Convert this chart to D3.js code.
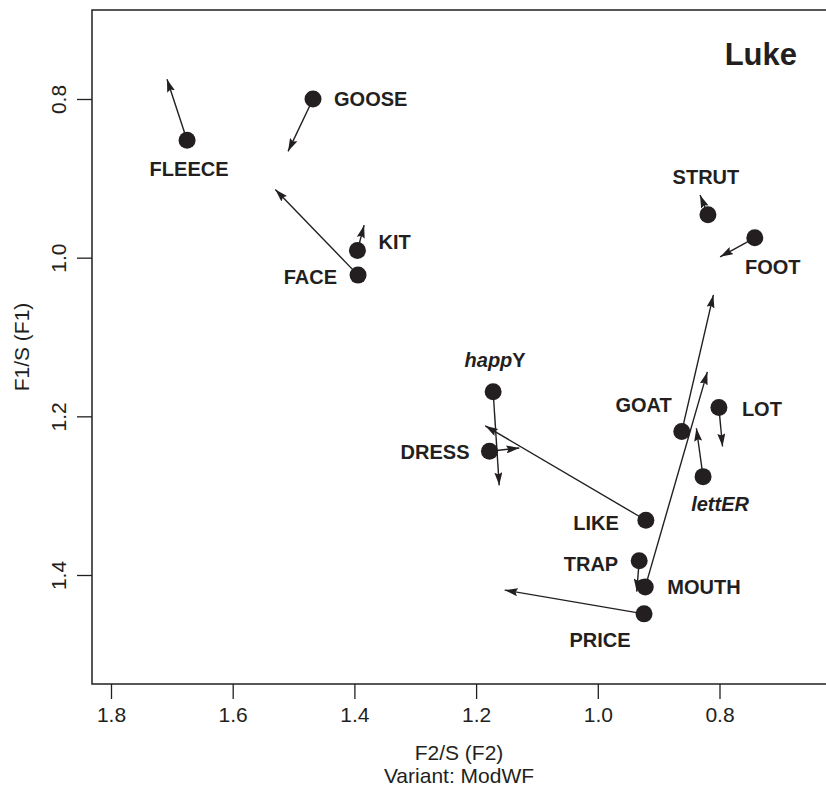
<!DOCTYPE html>
<html lang="en">
<head>
<meta charset="utf-8">
<title>Luke - vowel shifts, F1/S vs F2/S</title>
<script src="https://cdnjs.cloudflare.com/ajax/libs/d3/7.8.5/d3.min.js"></script>
<style>
  body { margin: 0; background: #fff; }
  text { font-family: "Liberation Sans", Arial, Helvetica, sans-serif; fill: #231f20; }
</style>
</head>
<body>
<script>
// vowel classes (lexical sets)
var vowels = ["FLEECE", "GOOSE", "KIT", "FACE", "STRUT", "FOOT", "happY", "DRESS",
              "GOAT", "LOT", "lettER", "LIKE", "TRAP", "MOUTH", "PRICE"];
// arrow start = dot (F2/S, F1/S)
var f2Start = [1.675, 1.468, 1.395, 1.394, 0.819, 0.742, 1.172, 1.178,
               0.862, 0.801, 0.827, 0.921, 0.932, 0.922, 0.924];
var f1Start = [0.852, 0.800, 0.991, 1.022, 0.946, 0.975, 1.169, 1.244,
               1.219, 1.189, 1.276, 1.331, 1.382, 1.415, 1.449];
// arrow end (ModWF variant)
var f2End = [1.708, 1.509, 1.384, 1.530, 0.832, 0.799, 1.162, 1.129,
             0.810, 0.795, 0.838, 1.185, 0.936, 0.820, 1.153];
var f1End = [0.775, 0.866, 0.959, 0.914, 0.921, 0.999, 1.287, 1.240,
             1.047, 1.238, 1.215, 1.212, 1.421, 1.144, 1.419];
// label parts: [text, italic?]
var labelParts = {
  happY: [["happ", true], ["Y", false]],
  lettER: [["lettER", true]]
};

var xTicks = [1.8, 1.6, 1.4, 1.2, 1.0, 0.8];
var yTicks = [0.8, 1.0, 1.2, 1.4];

// label placement next to each dot: anchor, dx, dy (px)
var labelPlace = {
  FLEECE: ["middle", 2, 29], GOOSE: ["start", 21, 0], KIT: ["start", 21, -9],
  FACE: ["end", -21, 2], STRUT: ["middle", -2, -38], FOOT: ["middle", 18, 29],
  happY: ["middle", 2, -32], DRESS: ["end", -20, 1], GOAT: ["end", -10, -27],
  LOT: ["start", 23, 1], lettER: ["middle", 17, 27], LIKE: ["end", -27, 3],
  TRAP: ["end", -21, 3], MOUTH: ["start", 22, 0], PRICE: ["middle", -44, 26]
};

var w = 826, h = 787;
var box = {left: 92, top: 10, bottom: 684};
var ink = "#231f20";

var svg = d3.select("body").append("svg")
    .attr("width", w)
    .attr("height", h);

var x = d3.scaleLinear().domain([1.8, 0.8]).range([111, 719.5]);
var y = d3.scaleLinear().domain([0.8, 1.4]).range([99, 575]);

// arrow head
svg.append("defs").append("marker")
    .attr("id", "head")
    .attr("markerUnits", "userSpaceOnUse")
    .attr("viewBox", "0 0 13 8")
    .attr("refX", 13).attr("refY", 4)
    .attr("markerWidth", 13).attr("markerHeight", 8)
    .attr("orient", "auto")
  .append("path")
    .attr("d", "M0,0 L13,4 L0,8 L2,4 Z")
    .attr("fill", ink);

// frame (right side runs off the picture)
svg.append("rect")
    .attr("x", box.left).attr("y", box.top)
    .attr("width", w + 10 - box.left).attr("height", box.bottom - box.top)
    .attr("fill", "none").attr("stroke", ink).attr("stroke-width", 1.5);

// x axis
var xAxis = d3.axisBottom(x).tickValues(xTicks).tickSize(15).tickPadding(8)
    .tickFormat(d3.format(".1f"));
var gx = svg.append("g").attr("transform", "translate(0," + box.bottom + ")").call(xAxis);
gx.select(".domain").remove();
gx.selectAll("line").attr("stroke", ink).attr("stroke-width", 1.3);
gx.selectAll("text").attr("font-size", 21).attr("fill", ink)
    .attr("font-family", "'Liberation Sans', Arial, sans-serif");

// y axis (labels parallel to axis)
var yAxis = d3.axisLeft(y).tickValues(yTicks).tickSize(15).tickFormat(d3.format(".1f"));
var gy = svg.append("g").attr("transform", "translate(" + box.left + ",0)").call(yAxis);
gy.select(".domain").remove();
gy.selectAll("line").attr("stroke", ink).attr("stroke-width", 1.3);
gy.selectAll("text")
    .attr("font-size", 21).attr("fill", ink)
    .attr("font-family", "'Liberation Sans', Arial, sans-serif")
    .attr("x", null).attr("dy", null)
    .attr("text-anchor", "middle")
    .attr("transform", "translate(-26,0) rotate(-90)");

// axis titles
svg.append("text")
    .attr("x", (box.left + w) / 2).attr("y", 760)
    .attr("text-anchor", "middle").attr("font-size", 21)
    .text("F2/S (F2)");
svg.append("text")
    .attr("x", (box.left + w) / 2).attr("y", 783)
    .attr("text-anchor", "middle").attr("font-size", 21)
    .text("Variant: ModWF");
svg.append("text")
    .attr("transform", "translate(29," + (box.top + box.bottom) / 2 + ") rotate(-90)")
    .attr("text-anchor", "middle").attr("font-size", 21)
    .text("F1/S (F1)");

// speaker name
svg.append("text")
    .attr("x", 797).attr("y", 65)
    .attr("text-anchor", "end")
    .attr("font-size", 31).attr("font-weight", "bold")
    .text("Luke");

var rows = vowels.map(function(v, i) {
  return {name: v, x0: f2Start[i], y0: f1Start[i], x1: f2End[i], y1: f1End[i]};
});

// arrows
svg.append("g").selectAll("line")
    .data(rows)
    .enter()
    .append("line")
    .attr("x1", function(d) { return x(d.x0); })
    .attr("y1", function(d) { return y(d.y0); })
    .attr("x2", function(d) { return x(d.x1); })
    .attr("y2", function(d) { return y(d.y1); })
    .attr("stroke", ink)
    .attr("stroke-width", 1.4)
    .attr("marker-end", "url(#head)");

// dots
svg.append("g").selectAll("circle")
    .data(rows)
    .enter()
    .append("circle")
    .attr("cx", function(d) { return x(d.x0); })
    .attr("cy", function(d) { return y(d.y0); })
    .attr("r", 8.5)
    .attr("fill", ink);

// labels
var labels = svg.append("g").selectAll("text")
    .data(rows)
    .enter()
    .append("text")
    .attr("x", function(d) { return x(d.x0) + labelPlace[d.name][1]; })
    .attr("y", function(d) { return y(d.y0) + labelPlace[d.name][2]; })
    .attr("dy", "0.36em")
    .attr("text-anchor", function(d) { return labelPlace[d.name][0]; })
    .attr("font-size", 20)
    .attr("font-weight", "bold");

labels.selectAll("tspan")
    .data(function(d) { return labelParts[d.name] || [[d.name, false]]; })
    .enter()
    .append("tspan")
    .attr("font-style", function(p) { return p[1] ? "italic" : "normal"; })
    .text(function(p) { return p[0]; });
</script>
</body>
</html>
